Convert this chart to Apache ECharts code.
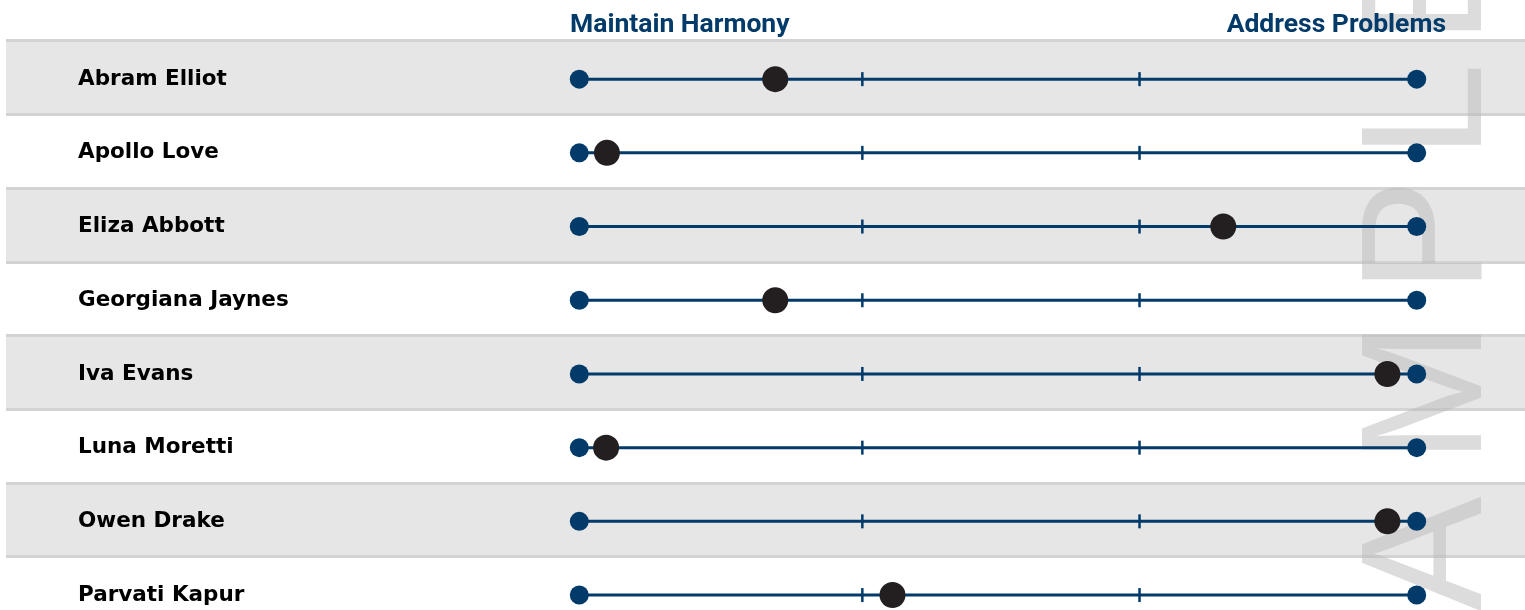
<!DOCTYPE html>
<html>
<head>
<meta charset="utf-8">
<script src="https://cdn.jsdelivr.net/npm/echarts@6/dist/echarts.min.js"></script>
<style>
  html, body { margin: 0; padding: 0; background: #ffffff; overflow: hidden; }
  #chart { width: 1525px; height: 640px; }
</style>
</head>
<body>
<div id="chart"></div>
<script>
// People rated on a scale from "Maintain Harmony" to "Address Problems"
const names = ['Abram Elliot', 'Apollo Love', 'Eliza Abbott', 'Georgiana Jaynes',
               'Iva Evans', 'Luna Moretti', 'Owen Drake', 'Parvati Kapur'];
const scores = [23.4, 3.3, 76.9, 23.4, 96.5, 3.2, 96.5, 37.4];
const scaleMin = 0;
const scaleMax = 100;
const tickValues = [33.8, 66.9];
const poleLabels = ['Maintain Harmony', 'Address Problems'];

const NAVY = '#023a69';
const DOT = '#231f20';

const chart = echarts.init(document.getElementById('chart'), null, { renderer: 'canvas' });

// Watermark letters, drawn one at a time down the right edge
const watermark = [
  ['S', 722], ['A', 554], ['M', 392], ['P', 236], ['L', 111], ['E', -13]
].map(([ch, y]) => ({
  type: 'text',
  x: 1434,
  y: y,
  rotation: Math.PI / 2,
  z: 1,
  silent: true,
  style: {
    text: ch,
    font: '172px "Liberation Sans", Arial, sans-serif',
    fill: 'rgba(185,185,185,0.5)',
    align: 'center',
    verticalAlign: 'middle'
  }
}));

const option = {
  animation: false,
  backgroundColor: '#ffffff',
  grid: [
    { left: 6, right: 0, top: 40.7, height: 589.6 },
    { left: 579.3, width: 837.4, top: 42.3, height: 589.6 }
  ],
  xAxis: [
    { gridIndex: 0, type: 'value', min: 0, max: 1, show: false },
    { gridIndex: 1, type: 'value', min: scaleMin, max: scaleMax, show: false }
  ],
  yAxis: [
    {
      gridIndex: 0, type: 'category', data: names, inverse: true,
      axisLine: { show: false }, axisTick: { show: false }, axisLabel: { show: false },
      splitArea: { show: true, areaStyle: { color: ['#e6e6e6', '#ffffff'] } },
      splitLine: { show: true, lineStyle: { color: '#d3d3d3', width: 3 } }
    },
    {
      gridIndex: 1, type: 'category', data: names, inverse: true,
      axisLine: { show: false }, axisTick: { show: false }, splitLine: { show: false },
      axisLabel: {
        align: 'left', margin: 501.3,
        fontFamily: '"DejaVu Sans"', fontWeight: 'bold', fontSize: 21.5, color: '#000000'
      }
    }
  ],
  graphic: [
    {
      type: 'text', left: 570, top: 12, z: 5,
      style: { text: poleLabels[0], font: 'bold 26.5px Roboto', fill: NAVY }
    },
    {
      type: 'text', right: 79, top: 12, z: 5,
      style: { text: poleLabels[1], font: 'bold 26.5px Roboto', fill: NAVY }
    }
  ].concat(watermark),
  series: [
    {
      // scale line with its intermediate tick marks
      type: 'custom',
      xAxisIndex: 1, yAxisIndex: 1,
      z: 3,
      silent: true,
      data: names.map((n, i) => [scaleMin, scaleMax, i]),
      encode: { x: [0, 1], y: 2 },
      renderItem: function (params, api) {
        const row = api.value(2);
        const a = api.coord([api.value(0), row]);
        const b = api.coord([api.value(1), row]);
        const children = [{
          type: 'line',
          shape: { x1: a[0], y1: a[1], x2: b[0], y2: b[1] },
          style: { stroke: NAVY, lineWidth: 3 }
        }];
        tickValues.forEach(function (t) {
          const p = api.coord([t, row]);
          children.push({
            type: 'line',
            shape: { x1: p[0], y1: p[1] - 7, x2: p[0], y2: p[1] + 7 },
            style: { stroke: NAVY, lineWidth: 2.5 }
          });
        });
        return { type: 'group', children: children };
      }
    },
    {
      // end points of the scale
      type: 'scatter',
      xAxisIndex: 1, yAxisIndex: 1,
      z: 4,
      symbolSize: 19,
      itemStyle: { color: NAVY, opacity: 1 },
      data: names.flatMap(n => [[scaleMin, n], [scaleMax, n]])
    },
    {
      // each person's position
      type: 'scatter',
      xAxisIndex: 1, yAxisIndex: 1,
      z: 5,
      symbolSize: 26,
      itemStyle: { color: DOT, opacity: 1 },
      data: names.map((n, i) => [scores[i], n])
    }
  ]
};

chart.setOption(option);
</script>
</body>
</html>
